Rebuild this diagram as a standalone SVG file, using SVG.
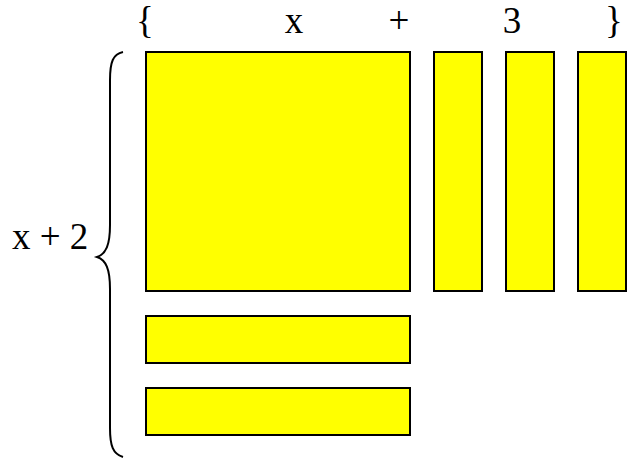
<svg xmlns="http://www.w3.org/2000/svg" width="627" height="458" viewBox="0 0 627 458">
<style>
.t{font-family:"Liberation Serif","Times New Roman",serif;font-size:37px;fill:#000}
.r{fill:#ffff00;stroke:#000;stroke-width:2}
</style>
<rect width="627" height="458" fill="#fff"/>
<g id="labels">
<text class="t" x="136" y="33">{</text>
<text class="t" x="294" y="33" text-anchor="middle">x</text>
<text class="t" x="399" y="33" text-anchor="middle">+</text>
<text class="t" x="512" y="33" text-anchor="middle">3</text>
<text class="t" x="605" y="33">}</text>
<text class="t" x="12" y="249">x + 2</text>
</g>
<g id="brace">
<path d="M123,52 C113,54 110,62 110,80 L110,225 C110,245 106,254 97,257 C106,260 110,269 110,289 L110,428 C110,446 113,454 123,457" fill="none" stroke="#000" stroke-width="2"/>
</g>
<g id="square"><rect class="r" x="146" y="52" width="264" height="239"/></g>
<g id="strip1"><rect class="r" x="434" y="52" width="48" height="239"/></g>
<g id="strip2"><rect class="r" x="506" y="52" width="48" height="239"/></g>
<g id="strip3"><rect class="r" x="578" y="52" width="48" height="239"/></g>
<g id="hstrip1"><rect class="r" x="146" y="316" width="264" height="47"/></g>
<g id="hstrip2"><rect class="r" x="146" y="388" width="264" height="47"/></g>
<g id="connectors"></g>
</svg>
